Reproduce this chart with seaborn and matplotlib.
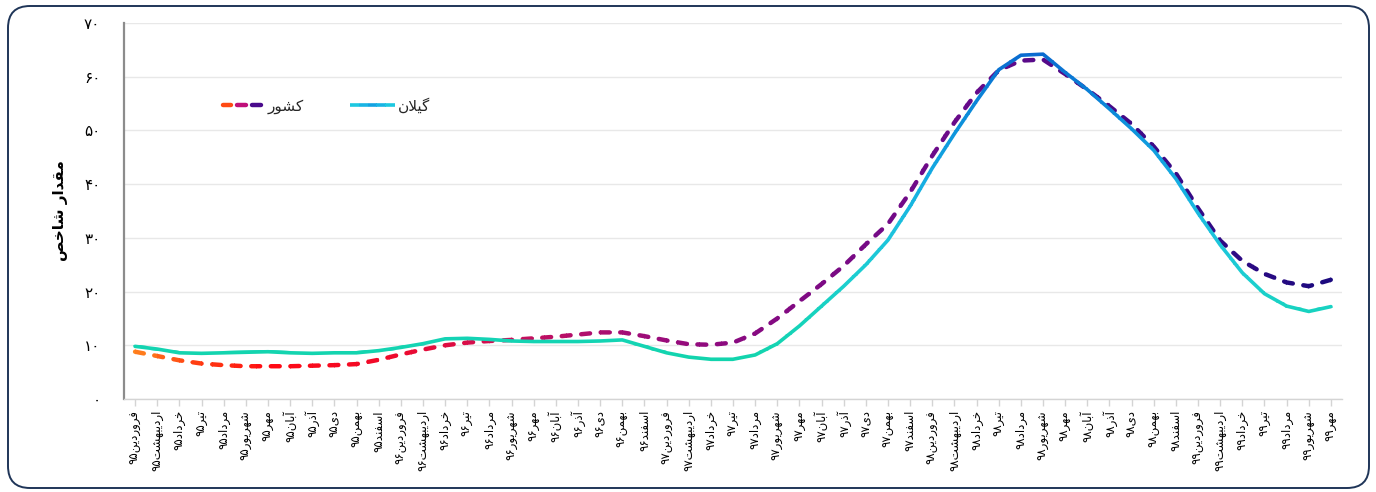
import numpy as np
import pandas as pd
import matplotlib
matplotlib.use("Agg")
import matplotlib.pyplot as plt
import seaborn as sns
from matplotlib.patches import Rectangle, FancyBboxPatch
from matplotlib.lines import Line2D
from matplotlib.legend_handler import HandlerBase
from matplotlib.colors import LinearSegmentedColormap
from matplotlib.transforms import IdentityTransform

# ---------------- data ----------------
months = ["فروردین", "اردیبهشت", "خرداد", "تیر", "مرداد", "شهریور",
          "مهر", "آبان", "آذر", "دی", "بهمن", "اسفند"]
years = ["۹۵", "۹۶", "۹۷", "۹۸", "۹۹"]
months_in_last_year = 7

gilan = [9.8, 9.3, 8.6, 8.5, 8.6, 8.7, 8.8, 8.6, 8.5, 8.6, 8.6, 9.0, 9.6, 10.3,
         11.2, 11.3, 11.1, 10.8, 10.7, 10.7, 10.7, 10.8, 11.0, 9.8, 8.6, 7.8, 7.4,
         7.4, 8.2, 10.3, 13.6, 17.3, 21.0, 25.0, 29.6, 35.9, 43.0, 49.4, 55.5,
         61.3, 64.0, 64.2, 60.8, 57.6, 54.0, 50.3, 46.3, 41.0, 34.6, 28.7, 23.5,
         19.6, 17.3, 16.3, 17.2]
keshvar = [8.8, 8.0, 7.2, 6.6, 6.3, 6.1, 6.1, 6.1, 6.2, 6.3, 6.5, 7.3, 8.3, 9.2,
           10.0, 10.5, 10.8, 11.0, 11.3, 11.6, 12.0, 12.4, 12.4, 11.7, 10.9, 10.2,
           10.1, 10.5, 12.2, 15.0, 18.2, 21.4, 24.8, 28.8, 32.6, 38.5, 45.3, 51.5,
           57.0, 61.2, 63.0, 63.2, 60.5, 57.6, 54.5, 51.2, 47.0, 42.0, 35.5, 29.5,
           25.7, 23.3, 21.7, 21.0, 22.2]
y_ticks = [0, 10, 20, 30, 40, 50, 60, 70]
name_gilan = "گیلان"
name_keshvar = "کشور"
y_title = "مقدار شاخص"

# ---------------- minimal Persian shaping ----------------
FORMS = {
    'ا': ('\uFE8D', '\uFE8E', None, None),
    'آ': ('\uFE81', '\uFE82', None, None),
    'ب': ('\uFE8F', '\uFE90', '\uFE91', '\uFE92'),
    'ت': ('\uFE95', '\uFE96', '\uFE97', '\uFE98'),
    'خ': ('\uFEA5', '\uFEA6', '\uFEA7', '\uFEA8'),
    'د': ('\uFEA9', '\uFEAA', None, None),
    'ذ': ('\uFEAB', '\uFEAC', None, None),
    'ر': ('\uFEAD', '\uFEAE', None, None),
    'س': ('\uFEB1', '\uFEB2', '\uFEB3', '\uFEB4'),
    'ش': ('\uFEB5', '\uFEB6', '\uFEB7', '\uFEB8'),
    'ص': ('\uFEB9', '\uFEBA', '\uFEBB', '\uFEBC'),
    'ف': ('\uFED1', '\uFED2', '\uFED3', '\uFED4'),
    'ق': ('\uFED5', '\uFED6', '\uFED7', '\uFED8'),
    'ل': ('\uFEDD', '\uFEDE', '\uFEDF', '\uFEE0'),
    'م': ('\uFEE1', '\uFEE2', '\uFEE3', '\uFEE4'),
    'ن': ('\uFEE5', '\uFEE6', '\uFEE7', '\uFEE8'),
    'ه': ('\uFEE9', '\uFEEA', '\uFEEB', '\uFEEC'),
    'و': ('\uFEED', '\uFEEE', None, None),
    'ک': ('\uFB8E', '\uFB8F', '\uFB90', '\uFB91'),
    'گ': ('\uFB92', '\uFB93', '\uFB94', '\uFB95'),
    'ی': ('\uFBFC', '\uFBFD', '\uFBFE', '\uFBFF'),
}


def shape(word):
    toks = []
    i = 0
    while i < len(word):
        c = word[i]
        if c == 'ل' and i + 1 < len(word) and word[i + 1] in 'اآ':
            toks.append('LA' + word[i + 1])
            i += 2
        else:
            toks.append(c)
            i += 1

    def joins_next(t):
        return t in FORMS and FORMS[t][2] is not None

    def joinable(t):
        return t in FORMS or t.startswith('LA')

    out = []
    for k, t in enumerate(toks):
        prev = toks[k - 1] if k > 0 else None
        nxt = toks[k + 1] if k + 1 < len(toks) else None
        cp = prev is not None and joins_next(prev) and joinable(t)
        cn = nxt is not None and joins_next(t) and joinable(nxt)
        if t.startswith('LA'):
            iso, fin = ('\uFEFB', '\uFEFC') if t[2] == 'ا' else ('\uFEF5', '\uFEF6')
            out.append(fin if cp else iso)
            continue
        if t not in FORMS:
            out.append(t)
            continue
        f = FORMS[t]
        if cp and cn:
            out.append(f[3])
        elif cp:
            out.append(f[1])
        elif cn:
            out.append(f[2])
        else:
            out.append(f[0])
    return ''.join(out)


def rtl(text, number=""):
    return number + shape(text)[::-1]


def fa_digits(n):
    return str(n).translate(str.maketrans("0123456789", "۰۱۲۳۴۵۶۷۸۹"))


labels = []
for yi, yr in enumerate(years):
    cnt = 12 if yi < len(years) - 1 else months_in_last_year
    for m in months[:cnt]:
        labels.append(rtl(m, yr))

n = len(gilan)
df = pd.DataFrame({"idx": np.arange(n), "gilan": gilan, "keshvar": keshvar})

# ---------------- style ----------------
sns.set_theme(style="white")
plt.rcParams['font.family'] = ['DejaVu Sans']

fig = plt.figure(figsize=(13.76, 4.92), dpi=100)
ax = fig.add_axes([124 / 1376, 1 - 399 / 492, (1342 - 124) / 1376, (399 - 23) / 492])
ax.set_xlim(-0.5, n - 0.5)
ax.set_ylim(0, 70)

dash_cmap = LinearSegmentedColormap.from_list("dash", [
    (0.00, '#ff8a1e'), (0.06, '#ff3c12'), (0.12, '#ff0a14'), (0.22, '#ef0a2c'),
    (0.32, '#c8105c'), (0.42, '#a00c78'), (0.50, '#8a0a80'), (0.70, '#660a8a'),
    (0.85, '#3c0a88'), (1.00, '#1a0a7e')])
solid_stops = [(7, '#12d4ac'), (15, '#16d3bc'), (22, '#1ccfd0'), (30, '#1cc4dc'),
               (40, '#15aee2'), (50, '#0e94dc'), (58, '#0a7ed6'), (65, '#0a6ad0')]
vmin_s, vmax_s = solid_stops[0][0], solid_stops[-1][0]
solid_cmap = LinearSegmentedColormap.from_list(
    "solid", [((v - vmin_s) / (vmax_s - vmin_s), c) for v, c in solid_stops])

# dashed national line: horizontal gradient via vertical clip strips
step = 0.5
edges = np.arange(-0.5, n - 0.5 + 1e-9, step)
for k in range(len(edges) - 1):
    x0, x1 = edges[k], edges[k + 1]
    t = ((x0 + x1) / 2 + 0.5) / n
    sns.lineplot(data=df, x="idx", y="keshvar", ax=ax, color=dash_cmap(t),
                 lw=3.2, estimator=None, sort=False, legend=False,
                 dashes=False)
    ln = ax.lines[-1]
    ln.set_dashes((2.0, 2.4))
    ln.set_dash_capstyle('round')
    ln.set_solid_joinstyle('round')
    rect = Rectangle((x0 - 0.02, -20), (x1 - x0) + 0.04, 140, transform=ax.transData)
    ln.set_clip_path(rect)

# solid Gilan line: vertical gradient via horizontal clip strips
yedges = np.arange(6, 66.01, 1.0)
for k in range(len(yedges) - 1):
    y0, y1 = yedges[k], yedges[k + 1]
    lo = -20 if k == 0 else y0 - 0.05
    hi = 120 if k == len(yedges) - 2 else y1 + 0.05
    c = solid_cmap(np.clip(((y0 + y1) / 2 - vmin_s) / (vmax_s - vmin_s), 0, 1))
    sns.lineplot(data=df, x="idx", y="gilan", ax=ax, color=c, lw=2.6,
                 estimator=None, sort=False, legend=False)
    ln = ax.lines[-1]
    ln.set_solid_joinstyle('round')
    ln.set_solid_capstyle('round')
    rect = Rectangle((-5, lo), n + 10, hi - lo, transform=ax.transData)
    ln.set_clip_path(rect)

# ---------------- axes ----------------
ax.set_yticks(y_ticks)
ax.set_yticklabels([fa_digits(v) for v in y_ticks], fontsize=11)
ax.set_xticks(np.arange(n))
ax.set_xticklabels(labels, rotation=90, fontsize=8.5, color='black')
ax.tick_params(axis='y', length=0, pad=17, colors='black')
ax.tick_params(axis='x', length=5, width=1, color='#d4d4d4', pad=3,
               direction='out', bottom=True, labelcolor='black')
ax.yaxis.grid(True, color='#e8e8e8', lw=1)
ax.xaxis.grid(False)
ax.set_axisbelow(True)
for s in ['top', 'right']:
    ax.spines[s].set_visible(False)
ax.spines['left'].set_color('#8c8c8c')
ax.spines['left'].set_linewidth(1.6)
ax.spines['bottom'].set_color('#d4d4d4')
ax.spines['bottom'].set_linewidth(1)
ax.set_xlabel("")
ax.set_ylabel(rtl(y_title), fontsize=11, fontweight='bold', color='black')
ax.yaxis.set_label_coords(-0.0525, 0.5)
ax.yaxis.label.set_va('center')


# ---------------- legend ----------------
class GradHandler(HandlerBase):
    def __init__(self, colors, dashed):
        super().__init__()
        self.colors = colors
        self.dashed = dashed

    def create_artists(self, legend, orig_handle, xdescent, ydescent, width,
                       height, fontsize, trans):
        y = height / 2 - ydescent
        arts = []
        m = len(self.colors)
        seg = width / m
        for k, c in enumerate(self.colors):
            if self.dashed:
                xs = [-xdescent + k * seg + 2.2, -xdescent + (k + 1) * seg - 2.2]
                ln = Line2D(xs, [y, y], color=c, lw=3.2, solid_capstyle='round',
                            transform=trans)
            else:
                xs = [-xdescent + k * seg, -xdescent + (k + 1) * seg + 0.3]
                ln = Line2D(xs, [y, y], color=c, lw=2.6, solid_capstyle='butt',
                            transform=trans)
            arts.append(ln)
        return arts


h_k = Line2D([], [])
h_g = Line2D([], [])
leg = ax.legend(handles=[h_k, h_g], labels=[rtl(name_keshvar), rtl(name_gilan)],
                handler_map={
                    h_k: GradHandler(['#ff4a14', '#c0107a', '#4a0a8c'], True),
                    h_g: GradHandler(['#1cc8e0', '#18b4e4', '#12a2e2', '#18b4e4',
                                      '#1cc8e0'], False)},
                ncol=2, frameon=False, fontsize=11, handlelength=2.9,
                handletextpad=0.25, columnspacing=3.0,
                loc='upper left', bbox_to_anchor=(212 / 1376, 1 - 90 / 492),
                bbox_transform=fig.transFigure, borderpad=0)

# ---------------- rounded frame ----------------
frame = FancyBboxPatch((8, 492 - 488), 1361, 482,
                       boxstyle="round,pad=0,rounding_size=22",
                       transform=IdentityTransform(), fill=False,
                       edgecolor='#1f3558', lw=1.4, zorder=10)
fig.patches.append(frame)

fig.savefig("out.png", dpi=100)
